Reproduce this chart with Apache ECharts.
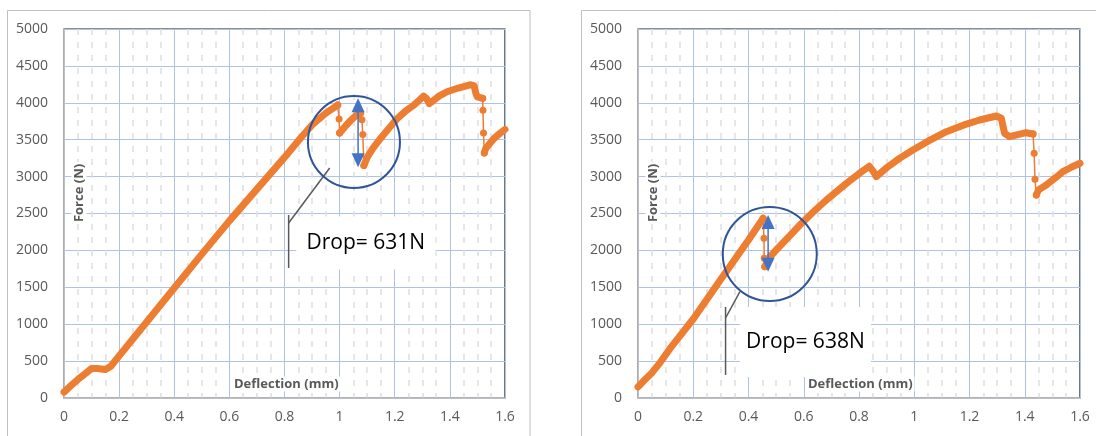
<!DOCTYPE html>
<html>
<head>
<meta charset="utf-8">
<script src="https://cdn.jsdelivr.net/npm/echarts@6/dist/echarts.min.js"></script>
<style>
html,body{margin:0;padding:0;background:#fff;}
#c{width:1096px;height:436px;}
</style>
</head>
<body>
<div id="c"></div>
<script>
// ---- tick labels ----
const xTicks = [0, 0.2, 0.4, 0.6, 0.8, 1, 1.2, 1.4, 1.6];
const yTicks = [0, 500, 1000, 1500, 2000, 2500, 3000, 3500, 4000, 4500, 5000];
const xTitle = 'Deflection (mm)';
const yTitle = 'Force (N)';
const dropLabels = ['Drop= 631N', 'Drop= 638N'];

// ---- left specimen: [deflection (mm), force (N)] ----
const leftCurve1 = [[0,80],[0.02,150],[0.05,250],[0.08,340],[0.1,400],[0.12,400],[0.15,385],[0.17,430],[0.2,570],[0.3,1030],[0.4,1490],[0.5,1950],[0.6,2400],[0.7,2830],[0.8,3260],[0.86,3530],[0.9,3700],[0.95,3860],[0.993,3970]];
const leftDrop1 = [[0.993,3970],[0.998,3780],[1.0,3590]];
const leftCurve2 = [[1.0,3590],[1.02,3680],[1.04,3760],[1.06,3830],[1.076,3860]];
const leftDrop2 = [[1.076,3860],[1.081,3770],[1.084,3570],[1.088,3150]];
const leftCurve3 = [[1.088,3150],[1.1,3260],[1.12,3380],[1.149,3520],[1.18,3660],[1.21,3790],[1.24,3890],[1.27,3970],[1.305,4090],[1.315,4060],[1.325,3990],[1.34,4030],[1.36,4090],[1.39,4150],[1.43,4200],[1.46,4230],[1.476,4245],[1.488,4230],[1.495,4120],[1.5,4080],[1.519,4060]];
const leftDrop3 = [[1.519,4060],[1.52,3900],[1.522,3590],[1.525,3320]];
const leftCurve4 = [[1.525,3320],[1.53,3380],[1.545,3450],[1.561,3520],[1.58,3580],[1.6,3640]];

// ---- right specimen ----
const rightCurve1 = [[0,150],[0.02,230],[0.05,340],[0.08,480],[0.12,690],[0.2,1070],[0.3,1610],[0.4,2140],[0.453,2435]];
const rightDrop1 = [[0.453,2435],[0.456,2164],[0.457,1893],[0.459,1780]];
const rightCurve2 = [[0.459,1780],[0.47,1860],[0.478,1915],[0.5,2005],[0.55,2200],[0.586,2344],[0.634,2520],[0.682,2683],[0.755,2909],[0.8,3040],[0.837,3140],[0.85,3080],[0.863,3000],[0.9,3120],[0.948,3250],[0.995,3360],[1.05,3480],[1.116,3608],[1.18,3700],[1.237,3767],[1.297,3821],[1.315,3790],[1.327,3587],[1.345,3541],[1.405,3595],[1.43,3577]];
const rightDrop2 = [[1.43,3577],[1.434,3316],[1.437,2963],[1.442,2751]];
const rightCurve3 = [[1.442,2751],[1.45,2820],[1.478,2886],[1.51,2980],[1.538,3067],[1.57,3130],[1.6,3180]];

const ORANGE = '#ed7d31';
const GRAY = '#595959';
const FONT = '"Open Sans", "Liberation Sans", sans-serif';

function thick(data, gi) {
  return {type:'line', xAxisIndex:gi, yAxisIndex:gi, data:data, symbol:'none', showSymbol:false,
    lineStyle:{width:7, color:ORANGE, cap:'round', join:'round'}, z:3, animation:false, silent:true};
}
function thin(data, gi) {
  return {type:'line', xAxisIndex:gi, yAxisIndex:gi, data:data, symbol:'circle', symbolSize:7, showSymbol:true,
    lineStyle:{width:1.5, color:ORANGE}, itemStyle:{color:ORANGE}, z:4, animation:false, silent:true};
}
function xAx(gi) {
  return {type:'value', gridIndex:gi, min:xTicks[0], max:xTicks[xTicks.length-1], interval:xTicks[1]-xTicks[0],
    axisLine:{show:true, onZero:false, lineStyle:{color:'#bfbfbf', width:1.5}},
    axisTick:{show:false},
    axisLabel:{color:GRAY, fontSize:14, fontFamily:FONT, margin:12, formatter:function(v){return String(Math.round(v*10)/10);}},
    splitLine:{show:true, lineStyle:{color:'#adc2e6', width:1}},
    minorTick:{show:true, splitNumber:4, length:0},
    minorSplitLine:{show:true, lineStyle:{color:'#dedede', width:1.5, type:[6,7]}}};
}
function yAx(gi) {
  return {type:'value', gridIndex:gi, min:yTicks[0], max:yTicks[yTicks.length-1], interval:yTicks[1]-yTicks[0],
    axisLine:{show:true, onZero:false, lineStyle:{color:'#bfbfbf', width:1.5}},
    axisTick:{show:false},
    axisLabel:{color:GRAY, fontSize:14, fontFamily:FONT, margin:16, formatter:function(v){return String(Math.round(v));}},
    splitLine:{show:true, lineStyle:{color:'#adc2e6', width:1}}};
}

const grids = [
  {left:64, top:29, width:441, height:369},
  {left:638, top:29, width:442, height:369}
];

const option = {
  animation:false,
  backgroundColor:'#fff',
  grid: grids.map(g => Object.assign({show:true, borderColor:'#1a1a1a', borderWidth:1.2, backgroundColor:'transparent'}, g)),
  xAxis:[xAx(0), xAx(1)],
  yAxis:[yAx(0), yAx(1)],
  series:[
    thick(leftCurve1,0), thin(leftDrop1,0), thick(leftCurve2,0), thin(leftDrop2,0),
    thick(leftCurve3,0), thin(leftDrop3,0), thick(leftCurve4,0),
    thick(rightCurve1,1), thin(rightDrop1,1), thick(rightCurve2,1), thin(rightDrop2,1), thick(rightCurve3,1)
  ]
};

const chart = echarts.init(document.getElementById('c'), null, {renderer:'canvas'});
chart.setOption(option);

// annotation anchors in data units
const annotations = [
  {gi:0, circle:[1.052,3469], r:46, arrow:[1.067,4060,3126],
   leader:[[0.815,1762],[0.815,2480]], diag:[[0.815,2371],[0.964,3117]],
   box:[1.095,2100], boxW:139, boxH:53, text:dropLabels[0]},
  {gi:1, circle:[0.477,1951], r:47, arrow:[0.471,2480,1711],
   leader:[[0.317,312],[0.317,1233]], diag:[[0.317,1084],[0.369,1440]],
   box:[0.606,759], boxW:131, boxH:70, text:dropLabels[1]}
];

const gfx = [];
// panel borders
gfx.push({type:'rect', z:0, shape:{x:7.5, y:10.5, width:522.5, height:440}, style:{fill:'none', stroke:'#bfbfbf', lineWidth:1}});
gfx.push({type:'rect', z:0, shape:{x:581.5, y:10.5, width:530, height:440}, style:{fill:'none', stroke:'#bfbfbf', lineWidth:1}});
// axis titles
grids.forEach(function(g){
  gfx.push({type:'text', z:10, x:g.left+168, y:384,
    style:{text:xTitle, font:'bold 13px ' + FONT, fill:GRAY, align:'left', verticalAlign:'middle', backgroundColor:'#fff', padding:[1,2]}});
  gfx.push({type:'text', z:10, x:g.left+15, y:193, rotation:Math.PI/2,
    style:{text:yTitle, font:'bold 13px ' + FONT, fill:GRAY, align:'center', verticalAlign:'middle', backgroundColor:'#fff', padding:[1,2]}});
});
annotations.forEach(function(a){
  const P = function(p){ return chart.convertToPixel({gridIndex:a.gi}, p); };
  const c = P(a.circle);
  const b = P(a.box);
  gfx.push({type:'rect', z:10, shape:{x:b[0]-a.boxW/2, y:b[1]-a.boxH/2, width:a.boxW, height:a.boxH}, style:{fill:'#fff', stroke:'none'}});
  gfx.push({type:'text', z:11, x:b[0], y:b[1], style:{text:a.text, font:'21px ' + FONT, fill:'#000', align:'center', verticalAlign:'middle'}});
  const l0 = P(a.leader[0]), l1 = P(a.leader[1]);
  gfx.push({type:'line', z:11, shape:{x1:l0[0], y1:l0[1], x2:l1[0], y2:l1[1]}, style:{stroke:GRAY, lineWidth:1.5}});
  const d0 = P(a.diag[0]), d1 = P(a.diag[1]);
  gfx.push({type:'line', z:11, shape:{x1:d0[0], y1:d0[1], x2:d1[0], y2:d1[1]}, style:{stroke:GRAY, lineWidth:1.5}});
  gfx.push({type:'circle', z:12, shape:{cx:c[0], cy:c[1], r:a.r}, style:{fill:'none', stroke:'#2f5597', lineWidth:2}});
  const t = P([a.arrow[0], a.arrow[1]]), bt = P([a.arrow[0], a.arrow[2]]);
  const hw = 6.5, hl = 14;
  gfx.push({type:'line', z:12, shape:{x1:t[0], y1:t[1]+hl-1, x2:bt[0], y2:bt[1]-hl+1}, style:{stroke:'#4472c4', lineWidth:1.5}});
  gfx.push({type:'polygon', z:12, shape:{points:[[t[0],t[1]],[t[0]-hw,t[1]+hl],[t[0]+hw,t[1]+hl]]}, style:{fill:'#4472c4'}});
  gfx.push({type:'polygon', z:12, shape:{points:[[bt[0],bt[1]],[bt[0]-hw,bt[1]-hl],[bt[0]+hw,bt[1]-hl]]}, style:{fill:'#4472c4'}});
});
chart.setOption({graphic:{elements:gfx}});
</script>
</body>
</html>
